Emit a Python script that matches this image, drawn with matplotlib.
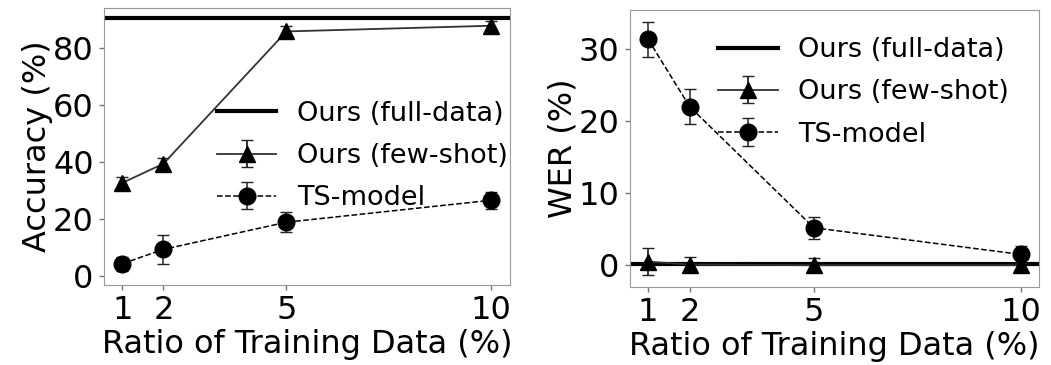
import numpy as np
import matplotlib.pyplot as plt

ratios = [1, 2, 5, 10]

acc_full = 90.5
acc_few = [32.8, 39.5, 85.8, 87.8]
acc_few_err = [2.0, 2.0, 2.0, 1.5]
acc_ts = [4.5, 9.5, 19.0, 26.7]
acc_ts_err = [2.5, 5.0, 3.5, 3.0]

wer_full = 0.2
wer_few = [0.5, 0.1, 0.0, 0.0]
wer_few_err = [1.9, 1.0, 1.0, 1.0]
wer_ts = [31.3, 22.0, 5.2, 1.5]
wer_ts_err = [2.4, 2.4, 1.5, 1.2]

FS = 23
LFS = 19.5
plt.rcParams['font.family'] = 'DejaVu Sans'

fig = plt.figure(figsize=(10.51, 3.65), dpi=100)
ax1 = fig.add_axes([0.099, 0.219, 0.386, 0.759])
ax2 = fig.add_axes([0.599, 0.214, 0.390, 0.759])


def draw(ax, full, few, few_err, ts, ts_err):
    ax.axhline(full, color='black', lw=3, label='Ours (full-data)')
    ax.errorbar(ratios, few, yerr=few_err, color='#333333', lw=1.3, marker='^',
                markersize=11, markerfacecolor='black', markeredgecolor='black',
                ecolor='#222222', capsize=4, label='Ours (few-shot)')
    ax.errorbar(ratios, ts, yerr=ts_err, color='black', lw=1.1, ls='--', marker='o',
                markersize=12, ecolor='#222222', capsize=4, label='TS-model')
    ax.set_xticks(ratios)
    ax.set_xlim(0.55, 10.45)
    ax.tick_params(labelsize=FS, color='#777777', width=1, pad=4)
    for s in ax.spines.values():
        s.set_color('#999999')
    ax.set_xlabel('Ratio of Training Data (%)', fontsize=FS, labelpad=2)


def add_legend(ax, x, y):
    ax.legend(loc='upper left', bbox_to_anchor=(x, y), frameon=False,
              fontsize=LFS, handlelength=2.2, labelspacing=0.6,
              handletextpad=0.75, borderaxespad=0, borderpad=0)


draw(ax1, acc_full, acc_few, acc_few_err, acc_ts, acc_ts_err)
ax1.set_ylim(-3, 94)
ax1.set_yticks([0, 20, 40, 60, 80])
ax1.set_ylabel('Accuracy (%)', fontsize=FS, labelpad=0)
add_legend(ax1, 0.278, 0.665)

draw(ax2, wer_full, wer_few, wer_few_err, wer_ts, wer_ts_err)
ax2.set_ylim(-3, 35.4)
ax2.set_yticks([0, 10, 20, 30])
ax2.set_ylabel('WER (%)', fontsize=FS, labelpad=0)
add_legend(ax2, 0.217, 0.902)

fig.savefig('out.png', dpi=100)
